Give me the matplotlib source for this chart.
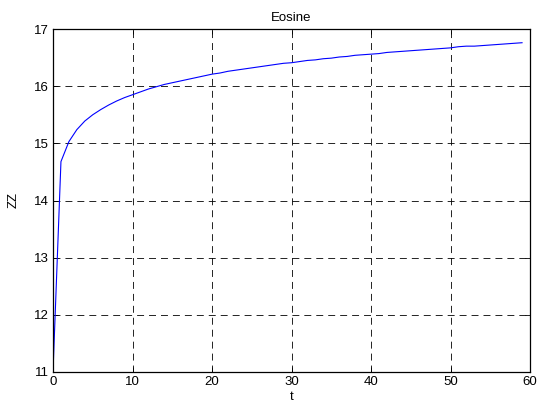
import matplotlib
matplotlib.use("Agg")
import matplotlib.pyplot as plt

t = list(range(0, 60))
zz = [11.00, 14.68, 15.03, 15.24, 15.39, 15.50, 15.59, 15.67, 15.74, 15.80,
      15.85, 15.90, 15.95, 15.99, 16.03, 16.06, 16.09, 16.12, 16.15, 16.18,
      16.21, 16.23, 16.26, 16.28, 16.30, 16.32, 16.34, 16.36, 16.38, 16.40,
      16.41, 16.43, 16.45, 16.46, 16.48, 16.49, 16.51, 16.52, 16.54, 16.55,
      16.56, 16.57, 16.59, 16.60, 16.61, 16.62, 16.63, 16.64, 16.65, 16.66,
      16.67, 16.69, 16.70, 16.70, 16.71, 16.72, 16.73, 16.74, 16.75, 16.76]
xticks = [0, 10, 20, 30, 40, 50, 60]
yticks = [11, 12, 13, 14, 15, 16, 17]

plt.rcParams['font.family'] = ['Liberation Sans', 'DejaVu Sans']
plt.rcParams['lines.scale_dashes'] = False

fig = plt.figure(figsize=(5.37, 4.07), dpi=100)
ax = fig.add_axes([53/537, 1-372/407, (530-53)/537, (372-29)/407])
ax.plot(t, zz, color='#0000ff', lw=0.8)
ax.set_xlim(0, 60)
ax.set_ylim(11, 17)
ax.set_xticks(xticks)
ax.set_yticks(yticks)
ax.grid(True, color='black', linestyle=(0, (5, 3.6)), linewidth=0.6)
ax.tick_params(direction='in', length=3.5, width=0.6, top=True, right=True,
               labelsize=9.5, pad=3)
for s in ax.spines.values():
    s.set_linewidth(0.9)
ax.set_title('Eosine', fontsize=9.5, pad=6)
ax.set_xlabel('t', fontsize=9.5, labelpad=2)
ax.set_ylabel('ZZ', fontsize=9.5, labelpad=10)
fig.savefig('out.png', dpi=100)
